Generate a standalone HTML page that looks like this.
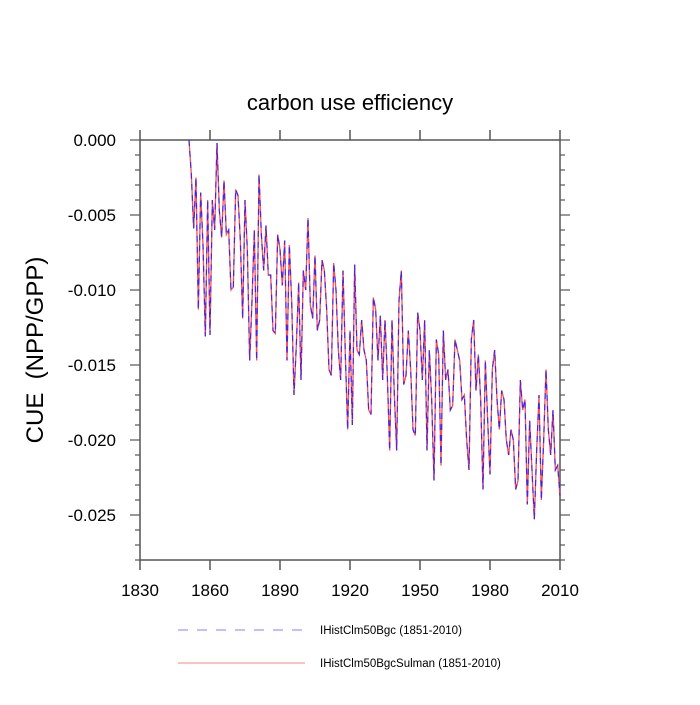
<!DOCTYPE html>
<html><head><meta charset="utf-8"><style>
body{margin:0;background:#fff}
svg text{font-family:"Liberation Sans",sans-serif}
</style></head><body>
<svg id="c" width="700" height="700" xmlns="http://www.w3.org/2000/svg">
<text x="350" y="110" text-anchor="middle" font-size="22">carbon use efficiency</text>
<text transform="translate(43,350) rotate(-90)" text-anchor="middle" font-size="24">CUE&#160;&#160;(NPP/GPP)</text>
<g id="axes"></g>
<g id="series"></g>
<g>
<line x1="178" y1="630" x2="305" y2="630" stroke="#8080ff" stroke-width="1" stroke-dasharray="10,9"/>
<text x="320" y="634" font-size="11.5">IHistClm50Bgc (1851-2010)</text>
<line x1="178" y1="663" x2="305" y2="663" stroke="#ff8080" stroke-width="1"/>
<text x="320" y="667" font-size="11.5">IHistClm50BgcSulman (1851-2010)</text>
</g>
</svg>
<script>
const startYear = 1851;
const sulman = [0,-0.0023,-0.0059,-0.0025,-0.0113,-0.0035,-0.0070,-0.0131,-0.0040,-0.0130,-0.0040,-0.0060,-0.0002,-0.0047,-0.0065,-0.0027,-0.0063,-0.0060,-0.0100,-0.0098,-0.0033,-0.0037,-0.0067,-0.0119,-0.0040,-0.0073,-0.0147,-0.0107,-0.0060,-0.0147,-0.0023,-0.0063,-0.0087,-0.0057,-0.0090,-0.0090,-0.0127,-0.0129,-0.0063,-0.0073,-0.0097,-0.0067,-0.0147,-0.0070,-0.0107,-0.0170,-0.0137,-0.0095,-0.0160,-0.0087,-0.0100,-0.0052,-0.0110,-0.0119,-0.0077,-0.0127,-0.0120,-0.0080,-0.0087,-0.0113,-0.0153,-0.0157,-0.0082,-0.0100,-0.0140,-0.0160,-0.0087,-0.0143,-0.0193,-0.0127,-0.0190,-0.0083,-0.0140,-0.0143,-0.0120,-0.0140,-0.0147,-0.0180,-0.0183,-0.0105,-0.0113,-0.0147,-0.0117,-0.0160,-0.0120,-0.0157,-0.0207,-0.0120,-0.0170,-0.0207,-0.0107,-0.0087,-0.0163,-0.0157,-0.0127,-0.0153,-0.0193,-0.0197,-0.0115,-0.0127,-0.0160,-0.0120,-0.0207,-0.0140,-0.0173,-0.0227,-0.0133,-0.0143,-0.0217,-0.0127,-0.0160,-0.0153,-0.0180,-0.0177,-0.0133,-0.0140,-0.0147,-0.0173,-0.0170,-0.0200,-0.0220,-0.0133,-0.0120,-0.0167,-0.0143,-0.0173,-0.0233,-0.0147,-0.0187,-0.0223,-0.0153,-0.0140,-0.0173,-0.0193,-0.0167,-0.0173,-0.0200,-0.0210,-0.0193,-0.0200,-0.0233,-0.0227,-0.0160,-0.0180,-0.0173,-0.0243,-0.0187,-0.0220,-0.0253,-0.0207,-0.0170,-0.0240,-0.0200,-0.0153,-0.0193,-0.0210,-0.0180,-0.0220,-0.0217,-0.0237];
const bgc = sulman.slice();
const xTicks = [1830,1860,1890,1920,1950,1980,2010];
const yTicks = [0,-0.005,-0.010,-0.015,-0.020,-0.025];
const yTickLabels = ["0.000","-0.005","-0.010","-0.015","-0.020","-0.025"];

const L=140,R=560,T=140,B=560;
const xS=v=>L+(v-1830)/(2010-1830)*(R-L);
const yS=v=>T+(0-v)/(0.028)*(B-T);
const NS="http://www.w3.org/2000/svg";
function mk(tag,attrs,parent){const e=document.createElementNS(NS,tag);for(const k in attrs)e.setAttribute(k,attrs[k]);parent.appendChild(e);return e;}
const ax=document.getElementById('axes');
const frame=mk('rect',{x:L,y:T,width:R-L,height:B-T,fill:'none',stroke:'#555','stroke-width':1.5},ax);


xTicks.forEach(t=>{
  const x=xS(t);
  const a=mk('line',{x1:x,y1:B,x2:x,y2:B+10,stroke:'#555','stroke-width':1.5},ax);
  
  
  const b=mk('line',{x1:x,y1:T,x2:x,y2:T-10,stroke:'#555','stroke-width':1.5},ax);
  
  
  const tx=mk('text',{x:x,y:B+36,'text-anchor':'middle','font-size':17},ax);
  tx.textContent=t;
  
  
});
for(let i=0;i<=28;i++){
  const v=-i*0.001, y=yS(v), major=i%5===0, len=major?10:5;
  const a=mk('line',{x1:L,y1:y,x2:L-len,y2:y,stroke:'#555','stroke-width':1.2},ax);
  
  
  const b=mk('line',{x1:R,y1:y,x2:R+len,y2:y,stroke:'#555','stroke-width':1.2},ax);
  
  
}
yTicks.forEach((t,i)=>{
  const tx=mk('text',{x:L-24,y:yS(t)+6,'text-anchor':'end','font-size':17},ax);
  tx.textContent=yTickLabels[i];
  
  
});
const sg=document.getElementById('series');
function pts(arr){return arr.map((v,i)=>xS(startYear+i).toFixed(2)+','+yS(v).toFixed(2)).join(' ');}
const l1=mk('polyline',{points:pts(sulman),fill:'none',stroke:'#ff3030','stroke-width':1.3,'stroke-opacity':0.85},sg);


const l2=mk('polyline',{points:pts(bgc),fill:'none',stroke:'#2020ff','stroke-width':1.2,'stroke-dasharray':'6,5','stroke-opacity':0.85},sg);


</script>
</body></html>
